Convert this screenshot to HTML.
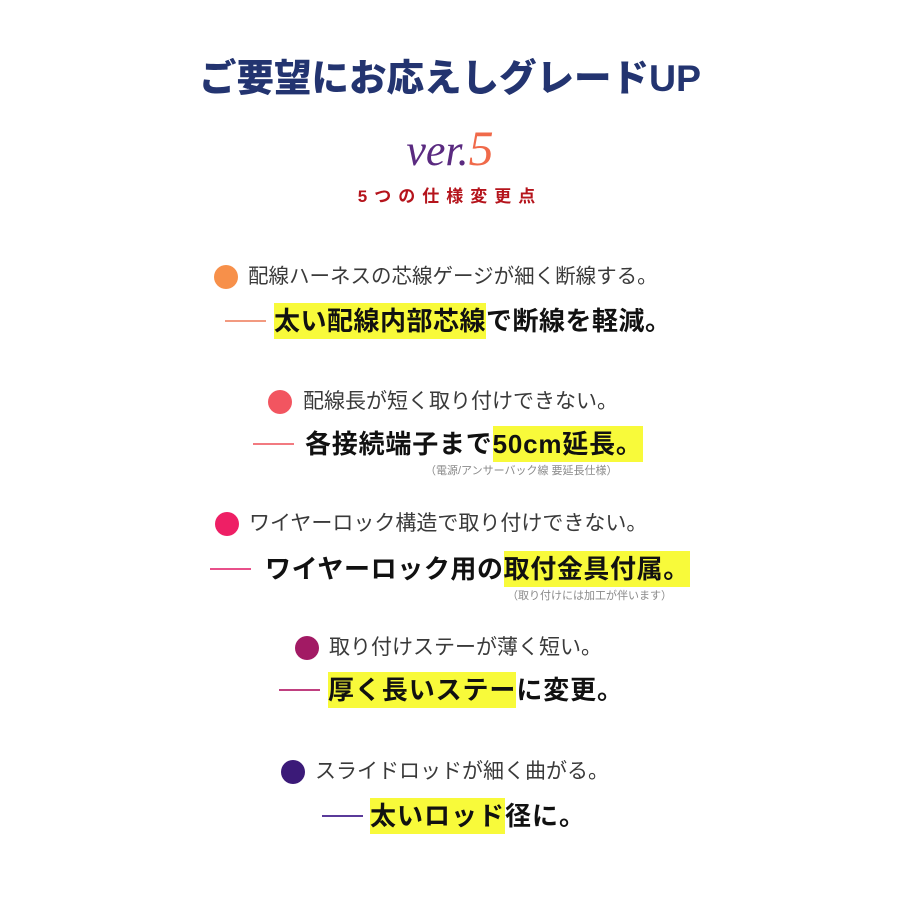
<!DOCTYPE html>
<html><head><meta charset="utf-8"><style>
body{margin:0;width:900px;height:900px;background:#fff;position:relative;overflow:hidden;font-family:"Liberation Sans","Noto Sans CJK JP",sans-serif}
.a{position:absolute;white-space:nowrap}
.t{font-size:37.5px;font-weight:900;color:#233470;left:0;width:900px;text-align:center;top:53px;line-height:50px}
.ver{left:0;width:900px;text-align:center;top:120px;font:italic 44px "Liberation Serif",serif;line-height:56px}
.sub{left:0;width:900px;text-align:center;top:185px;font-size:17px;font-weight:700;color:#b5141c;letter-spacing:7px;line-height:24px}
.dot{position:absolute;width:24px;height:24px;border-radius:50%}
.r{font-size:20.5px;color:#3a3a3a;line-height:28px;font-weight:400}
.b{font-size:26px;font-weight:700;color:#111;line-height:36px}
.h{background:#f8fa3a;display:inline-block;line-height:36px}
.dash{position:absolute;height:2px;width:41px}
.n{font-size:11px;color:#8a8a8a;line-height:14px}
</style></head><body>
<div class="a t">ご要望にお応えしグレードUP</div>
<div class="a ver"><span style="color:#5a2a80">ver.</span><span style="color:#f06a4a;font-size:50px">5</span></div>
<div class="a sub">5つの仕様変更点</div>

<div class="dot" style="left:214px;top:265px;background:#f7904a"></div>
<div class="a r" style="left:248px;top:263px">配線ハーネスの芯線ゲージが細く断線する。</div>
<div class="dash" style="left:225px;top:320px;background:#f29a80"></div>
<div class="a b" style="left:274px;top:303px;letter-spacing:0.5px"><span class="h">太い配線内部芯線</span>で断線を軽減。</div>

<div class="dot" style="left:268px;top:390px;background:#f25560"></div>
<div class="a r" style="left:303px;top:388px;font-size:21px">配線長が短く取り付けできない。</div>
<div class="dash" style="left:253px;top:443px;background:#f27a80"></div>
<div class="a b" style="left:305px;top:426px;letter-spacing:0.8px">各接続端子まで<span class="h">50cm延長。</span></div>
<div class="a n" style="left:425px;top:464px">（電源/アンサーバック線 要延長仕様）</div>

<div class="dot" style="left:215px;top:512px;background:#ee1f65"></div>
<div class="a r" style="left:249px;top:510px;font-size:21px">ワイヤーロック構造で取り付けできない。</div>
<div class="dash" style="left:210px;top:568px;background:#e8508a"></div>
<div class="a b" style="left:265px;top:551px;letter-spacing:0.6px">ワイヤーロック用の<span class="h">取付金具付属。</span></div>
<div class="a n" style="left:507px;top:589px">（取り付けには加工が伴います）</div>

<div class="dot" style="left:295px;top:636px;background:#a21a64"></div>
<div class="a r" style="left:329px;top:634px;font-size:21px">取り付けステーが薄く短い。</div>
<div class="dash" style="left:279px;top:689px;background:#c04080"></div>
<div class="a b" style="left:328px;top:672px;letter-spacing:0.9px"><span class="h">厚く長いステー</span>に変更。</div>

<div class="dot" style="left:281px;top:760px;background:#3b1a78"></div>
<div class="a r" style="left:315px;top:758px;font-size:21px">スライドロッドが細く曲がる。</div>
<div class="dash" style="left:322px;top:815px;background:#5a3a9a"></div>
<div class="a b" style="left:370px;top:798px;letter-spacing:1px"><span class="h">太いロッド</span>径に。</div>
</body></html>
